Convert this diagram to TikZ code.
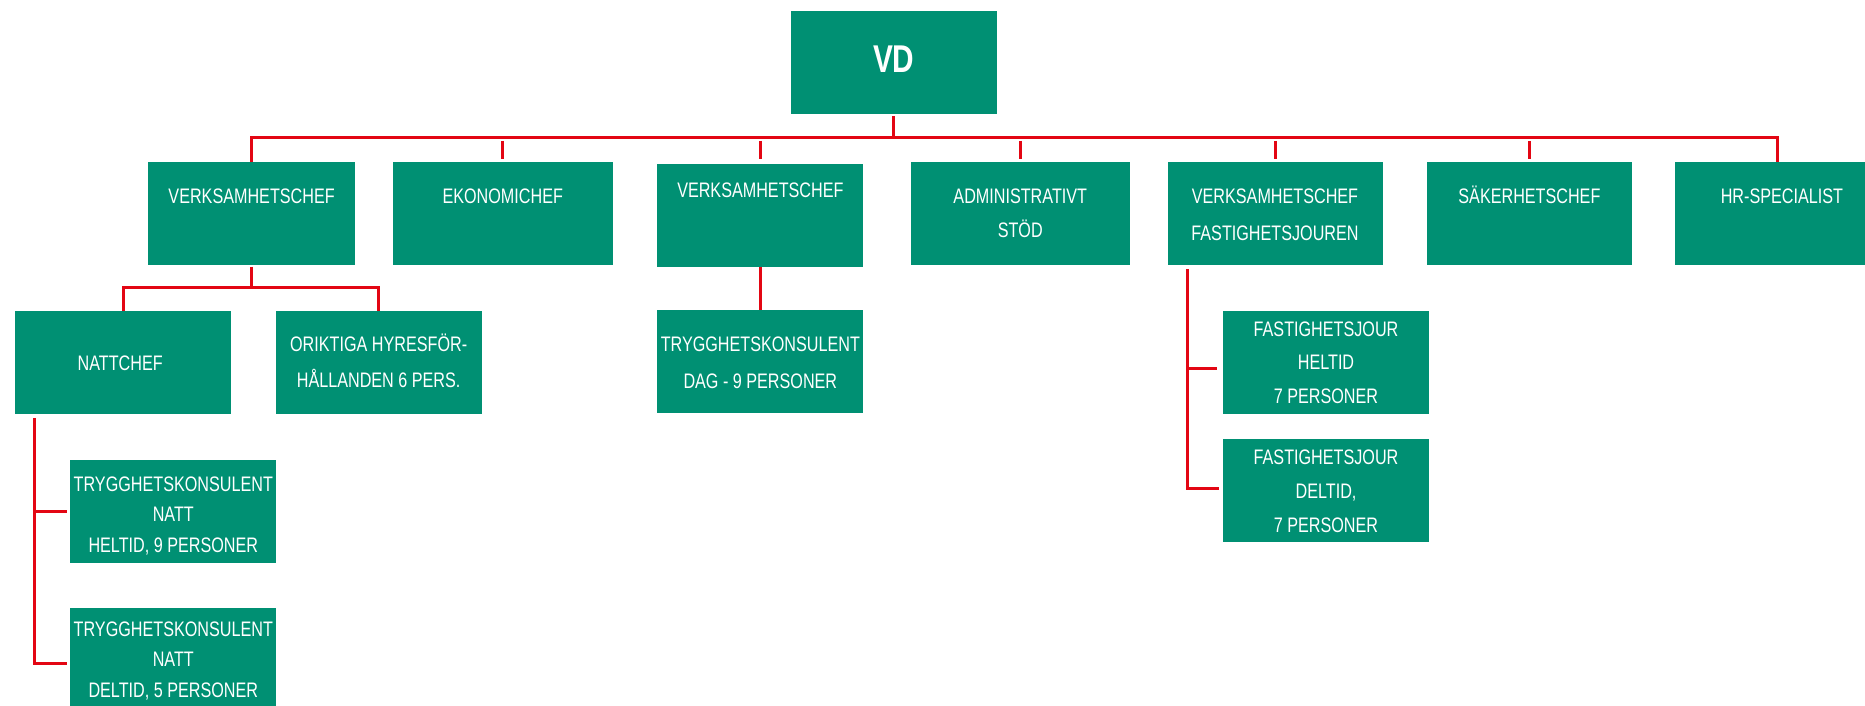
\documentclass[tikz,border=0pt]{standalone}
\usepackage{fontspec}
\setmainfont{Liberation Sans}[FakeStretch=0.77]
\definecolor{tgreen}{RGB}{0,144,115}
\definecolor{tred}{RGB}{227,6,19}
\begin{document}
\begin{tikzpicture}[x=1pt,y=-1pt,
  box/.style={fill=tgreen,draw=none,inner sep=0pt,outer sep=0pt,anchor=north west},
  txt/.style={text=white,inner sep=0pt,anchor=base,font=\fontsize{21}{25}\selectfont},
  vdtxt/.style={text=white,inner sep=0pt,anchor=base,font=\bfseries\fontsize{38.7}{44}\selectfont},
  link/.style={draw=tred,line width=3pt}]
\useasboundingbox (0,0) rectangle (1865,706);
\clip (0,0) rectangle (1865,706);
% boxes
\node[box,minimum width=206.6pt,minimum height=102.7pt] (VD) at (790.5,11) {};
\node[box,minimum width=206.6pt,minimum height=103pt] (b1) at (148.3,162) {};
\node[box,minimum width=219.7pt,minimum height=103pt] (ekon) at (392.9,162) {};
\node[box,minimum width=206.1pt,minimum height=102.7pt] (b2) at (657.3,164) {};
\node[box,minimum width=219.3pt,minimum height=103pt] (admin) at (910.6,162) {};
\node[box,minimum width=215pt,minimum height=103pt] (vf) at (1167.5,162) {};
\node[box,minimum width=204.6pt,minimum height=103pt] (sak) at (1427.1,162) {};
\node[box,minimum width=206.6pt,minimum height=103pt] (hr) at (1674.6,162) {};
\node[box,minimum width=216.1pt,minimum height=102.7pt] (natt) at (15.1,311) {};
\node[box,minimum width=206.1pt,minimum height=102.7pt] (orik) at (275.6,311) {};
\node[box,minimum width=206.2pt,minimum height=102.7pt] (tkh) at (70.2,460) {};
\node[box,minimum width=206.2pt,minimum height=102.7pt] (tkd) at (70.2,608) {};
\node[box,minimum width=206.1pt,minimum height=102.7pt] (tkdag) at (657.3,310) {};
\node[box,minimum width=206pt,minimum height=102.7pt] (fjh) at (1223,311) {};
\node[box,minimum width=206pt,minimum height=102.7pt] (fjd) at (1223,439) {};
% texts
\node[vdtxt] (tVD) at (VD.north |- 0,72.7) {VD};
\node[txt] (t1) at (b1.north |- 0,203.3) {VERKSAMHETSCHEF};
\node[txt] (t2) at (ekon.north |- 0,203.3) {EKONOMICHEF};
\node[txt] (t3) at (b2.north |- 0,197.7) {VERKSAMHETSCHEF};
\node[txt] (t4a) at (admin.north |- 0,203.3) {ADMINISTRATIVT};
\node[txt] (t4b) at (admin.north |- 0,237.3) {STÖD};
\node[txt] (t5a) at (vf.north |- 0,203.3) {VERKSAMHETSCHEF};
\node[txt] (t5b) at (vf.north |- 0,240) {FASTIGHETSJOUREN};
\node[txt] (t6) at (sak.north |- 0,203.3) {SÄKERHETSCHEF};
\node[txt] (t7) at ([xshift=4pt]hr.north |- 0,203.3) {HR-SPECIALIST};
\node[txt] (t8) at ([xshift=-3pt]natt.north |- 0,370.7) {NATTCHEF};
\node[txt] (t9a) at (orik.north |- 0,351.7) {ORIKTIGA HYRESFÖR-};
\node[txt] (t9b) at (orik.north |- 0,387.3) {HÅLLANDEN 6 PERS.};
\node[txt] (t10a) at (tkh.north |- 0,491.7) {TRYGGHETSKONSULENT};
\node[txt] (t10b) at (tkh.north |- 0,521.7) {NATT};
\node[txt] (t10c) at (tkh.north |- 0,552.3) {HELTID, 9 PERSONER};
\node[txt] (t11a) at (tkd.north |- 0,636.7) {TRYGGHETSKONSULENT};
\node[txt] (t11b) at (tkd.north |- 0,666.7) {NATT};
\node[txt] (t11c) at (tkd.north |- 0,697.3) {DELTID, 5 PERSONER};
\node[txt] (t12a) at (tkdag.north |- 0,351) {TRYGGHETSKONSULENT};
\node[txt] (t12b) at (tkdag.north |- 0,388) {DAG - 9 PERSONER};
\node[txt] (t13a) at (fjh.north |- 0,336.7) {FASTIGHETSJOUR};
\node[txt] (t13b) at (fjh.north |- 0,369.3) {HELTID};
\node[txt] (t13c) at (fjh.north |- 0,403.3) {7 PERSONER};
\node[txt] (t14a) at (fjd.north |- 0,464.3) {FASTIGHETSJOUR};
\node[txt] (t14b) at (fjd.north |- 0,498.3) {DELTID,};
\node[txt] (t14c) at (fjd.north |- 0,532.3) {7 PERSONER};
% connectors
\coordinate (bus) at (0,137.7);
\coordinate (tA) at (0,141);
\coordinate (tB) at (0,158.7);
\draw[link] ([yshift=-2.6pt]VD.south) -- (VD.south |- bus);
\draw[link] (b1.north) -- (b1.north |- bus) -- (hr.north |- bus) -- (hr.north);
\foreach \n in {ekon,b2,admin,vf,sak}{
  \draw[link] (\n.north |- tA) -- (\n.north |- tB);
}
\coordinate (sub) at (0,287.3);
\draw[link] ([yshift=-1.7pt]b1.south) -- (b1.south |- 0,285.5);
\draw[link] (natt.north) -- (natt.north |- sub) -- (orik.north |- sub) -- (orik.north);
\draw[link] (b2.south) -- (tkdag.north);
\coordinate (nt) at (34.5,418.3);
\draw[link] (nt) |- ([xshift=-3.6pt]tkd.west |- 0,663.3);
\draw[link] (nt |- tkh.west) -- ([xshift=-3.6pt]tkh.west);
\coordinate (ft) at (1187.5,269);
\draw[link] (ft) |- ([xshift=-3.6pt]fjd.west |- 0,488.7);
\draw[link] (ft |- 0,368) -- ([xshift=-6pt]fjh.west |- 0,368);
\end{tikzpicture}
\end{document}
